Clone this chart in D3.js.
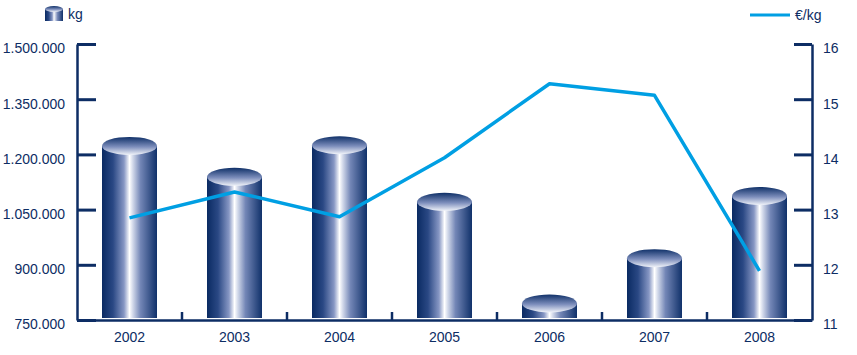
<!DOCTYPE html>
<html>
<head>
<meta charset="utf-8">
<script src="https://cdn.jsdelivr.net/npm/d3@7"></script>
<style>
  body { margin: 0; background: #fff; }
  svg text { font-family: "Liberation Sans", Arial, sans-serif; font-size: 14px; fill: #0d2d64; }
</style>
</head>
<body>
<div id="chart"></div>
<script>
// data
const years = ["2002", "2003", "2004", "2005", "2006", "2007", "2008"];
const kg = [1223000, 1139000, 1225000, 1071000, 795000, 918000, 1087000];
const eurPerKg = [12.85, 13.32, 12.87, 13.94, 15.28, 15.07, 11.89];
const kgTicks = [750000, 900000, 1050000, 1200000, 1350000, 1500000];
const eurTicks = [11, 12, 13, 14, 15, 16];

const svgWidth = 857;
const svgHeight = 355;
const navy = "#0d2d64";
const lineColor = "#009fe3";

const margin = { top: 44, right: 45, bottom: 35, left: 77 };
const width = svgWidth - margin.left - margin.right;
const height = svgHeight - margin.top - margin.bottom;

const svg = d3.select("#chart")
  .append("svg")
  .attr("width", svgWidth)
  .attr("height", svgHeight);

// gradients for the cylinders
const defs = svg.append("defs");
const body = defs.append("linearGradient")
  .attr("id", "cylBody")
  .attr("x1", 0).attr("x2", 1).attr("y1", 0).attr("y2", 0);
[[0, "#0a2a62"], [0.2, "#2a4884"], [0.4, "#8797c4"], [0.5, "#ffffff"],
 [0.56, "#d2d9ea"], [0.7, "#7386b6"], [1, "#10316a"]]
  .forEach(s => body.append("stop").attr("offset", s[0]).attr("stop-color", s[1]));

const cap = defs.append("linearGradient")
  .attr("id", "cylCap")
  .attr("x1", 0).attr("x2", 0).attr("y1", 0).attr("y2", 1);
[[0, "#0f3068"], [0.55, "#7d8ebc"], [1, "#f0f3f9"]]
  .forEach(s => cap.append("stop").attr("offset", s[0]).attr("stop-color", s[1]));

const chartGroup = svg.append("g")
  .attr("transform", `translate(${margin.left}, ${margin.top})`);

// scales
const pad = 50 / 105;
const xBandScale = d3.scaleBand()
  .domain(years)
  .range([0, width])
  .paddingInner(pad)
  .paddingOuter(pad / 2);

const yLeftScale = d3.scaleLinear()
  .domain([750000, 1500000])
  .range([height, 0]);

const yRightScale = d3.scaleLinear()
  .domain([11, 16])
  .range([height, 0]);

const deFormat = d3.formatLocale({
  decimal: ",", thousands: ".", grouping: [3], currency: ["", "€"]
}).format(",.0f");

// cylinders
const bw = xBandScale.bandwidth();
const ry = 9;
const bars = chartGroup.selectAll("g.cyl")
  .data(years.map((y, i) => ({ year: y, value: kg[i] })))
  .enter()
  .append("g")
  .attr("class", "cyl");

bars.append("rect")
  .attr("x", d => xBandScale(d.year))
  .attr("y", d => yLeftScale(d.value))
  .attr("width", bw)
  .attr("height", d => yLeftScale(750000) - 2 - yLeftScale(d.value))
  .attr("fill", "url(#cylBody)");

bars.append("ellipse")
  .attr("cx", d => xBandScale(d.year) + bw / 2)
  .attr("cy", d => yLeftScale(d.value))
  .attr("rx", bw / 2)
  .attr("ry", ry)
  .attr("fill", "url(#cylCap)");

// axes
const leftAxis = d3.axisLeft(yLeftScale)
  .tickValues(kgTicks)
  .tickFormat(deFormat)
  .tickSizeInner(-19)
  .tickSizeOuter(0)
  .tickPadding(12);

const rightAxis = d3.axisRight(yRightScale)
  .tickValues(eurTicks)
  .tickFormat(d3.format("d"))
  .tickSizeInner(-18)
  .tickSizeOuter(0)
  .tickPadding(11);

const bottomAxis = d3.axisBottom(xBandScale)
  .tickSize(0)
  .tickPadding(12);

function styleAxis(g) {
  g.attr("font-family", null).attr("font-size", null);
  g.selectAll("path.domain").attr("stroke", navy).attr("stroke-width", 2.5);
  g.selectAll(".tick line").attr("stroke", navy).attr("stroke-width", 3);
  g.selectAll(".tick text").attr("fill", navy);
}

chartGroup.append("g")
  .call(leftAxis)
  .call(styleAxis)
  .selectAll(".tick text").attr("dy", "0.64em");

chartGroup.append("g")
  .attr("transform", `translate(${width}, 0)`)
  .call(rightAxis)
  .call(styleAxis)
  .selectAll(".tick text").attr("dy", "0.64em");

chartGroup.append("g")
  .attr("transform", `translate(0, ${height})`)
  .call(bottomAxis)
  .call(styleAxis);

// small ticks between categories
const gap = xBandScale.step() - bw;
chartGroup.selectAll("line.sep")
  .data(years.slice(1))
  .enter()
  .append("line")
  .attr("class", "sep")
  .attr("x1", d => xBandScale(d) - gap / 2)
  .attr("x2", d => xBandScale(d) - gap / 2)
  .attr("y1", height)
  .attr("y2", height - 8)
  .attr("stroke", navy)
  .attr("stroke-width", 2.5);

// price line
const priceLine = d3.line()
  .x((d, i) => xBandScale(years[i]) + bw / 2)
  .y(d => yRightScale(d));

chartGroup.append("path")
  .datum(eurPerKg)
  .attr("d", priceLine)
  .attr("fill", "none")
  .attr("stroke", lineColor)
  .attr("stroke-width", 3.5)
  .attr("stroke-linejoin", "round");

// legends
const kgLegend = svg.append("g").attr("transform", "translate(45, 6)");
kgLegend.append("rect")
  .attr("x", 0).attr("y", 3)
  .attr("width", 18).attr("height", 12)
  .attr("fill", "url(#cylBody)");
kgLegend.append("ellipse")
  .attr("cx", 9).attr("cy", 3)
  .attr("rx", 9).attr("ry", 3)
  .attr("fill", "url(#cylCap)");
kgLegend.append("text")
  .attr("x", 23).attr("y", 13)
  .text("kg");

const eurLegend = svg.append("g").attr("transform", "translate(750, 15)");
eurLegend.append("line")
  .attr("x1", 0).attr("x2", 40)
  .attr("stroke", lineColor)
  .attr("stroke-width", 3);
eurLegend.append("text")
  .attr("x", 45).attr("y", 5)
  .text("€/kg");
</script>
</body>
</html>
